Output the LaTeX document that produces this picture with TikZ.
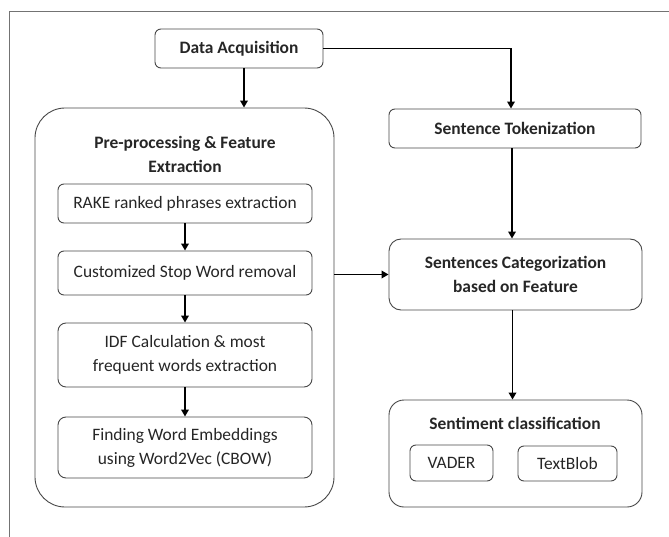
\documentclass[tikz,border=0pt]{standalone}
\usepackage{fontspec}
\setmainfont{Carlito}
\usetikzlibrary{arrows.meta}
\begin{document}
\begin{tikzpicture}[x=1bp,y=-1bp,
  box/.style={draw=black!72,line width=0.9bp,rectangle,inner sep=0pt,align=center,
    text=black!85,font=\fontsize{17.5}{24}\selectfont},
  bbox/.style={box,font=\fontsize{17.5}{24}\selectfont\bfseries},
  arr/.style={draw=black,line width=1.8bp,-{Triangle[length=7bp,width=7.5bp]}},
  frame/.style={draw=black!55,line width=0.8bp}]
\useasboundingbox (0,0) rectangle (669,537);
% outer frame lines
\coordinate (ftl) at (9,11);
\coordinate (ftr) at (669,11);
\coordinate (fbl) at (9,537);
\draw[frame] (fbl) -- (ftl) -- (ftr);

% left column
\node[bbox,rounded corners=6bp,minimum width=168bp,minimum height=39bp] (da) at (239,48.5) {Data Acquisition};
\node[box,rounded corners=30bp,minimum width=299bp,minimum height=399bp] (pre) at (184.5,307.5) {};
\node[bbox,draw=none] (pretitle) at (185,154) {Pre-processing \& Feature\\Extraction};
\node[box,rounded corners=6bp,minimum width=254bp,minimum height=39bp] (rake) at (185,203.5) {RAKE ranked phrases extraction};
\node[box,rounded corners=6bp,minimum width=254bp,minimum height=44bp] (stop) at (185,273) {Customized Stop Word removal};
\node[box,rounded corners=8bp,minimum width=254bp,minimum height=64bp] (idf) at (185,355) {IDF Calculation \& most\\frequent words extraction};
\node[box,rounded corners=8bp,minimum width=254bp,minimum height=61bp] (w2v) at (185,447.5) {Finding Word Embeddings\\using Word2Vec (CBOW)};

% right column
\node[bbox,rounded corners=6bp,minimum width=252bp,minimum height=39bp] (st) at (515,128.5) {Sentence Tokenization};
\node[bbox,rounded corners=12bp,minimum width=253bp,minimum height=71bp] (sc) at (515.5,274.5) {Sentences Categorization\\based on Feature};
\node[box,rounded corners=15bp,minimum width=253bp,minimum height=107bp] (sent) at (515.5,453.5) {};
\node[bbox,draw=none] (senttitle) at (515,423) {Sentiment classification};
\node[box,rounded corners=6bp,minimum width=83bp,minimum height=36bp] (vader) at (451.5,463) {VADER};
\node[box,rounded corners=6bp,minimum width=99bp,minimum height=35bp] (blob) at (567.5,463.5) {TextBlob};

% connectors
\draw[arr] ([xshift=5bp]da.south) -- ([xshift=5bp]da.south |- pre.north);
\draw[arr] (da.east) -| ([xshift=-4bp]st.north);
\draw[arr] (rake) -- (stop);
\draw[arr] (stop) -- (idf);
\draw[arr] (idf) -- (w2v);
\draw[arr] (pre.east |- sc.west) -- (sc.west);
\draw[arr] ([xshift=-3bp]st.south) -- ([xshift=-3bp]st.south |- sc.north);
\draw[arr] ([xshift=-3bp]sc.south) -- ([xshift=-3bp]sc.south |- sent.north);
\end{tikzpicture}
\end{document}
